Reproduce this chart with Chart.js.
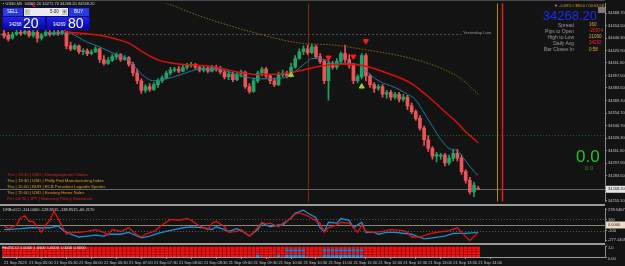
<!DOCTYPE html>
<html lang="en">
<head>
<meta charset="UTF-8">
<script src="https://cdn.jsdelivr.net/npm/chart.js"></script>
<title>US30,M5</title>
<style>
  html, body { margin: 0; padding: 0; background: #131313; }
  body { width: 625px; height: 266px; position: relative; overflow: hidden; font-family: "Liberation Sans", Arial, sans-serif; }
  canvas { position: absolute; left: 0; z-index: 1; }
  .t { position: absolute; white-space: nowrap; line-height: 1; z-index: 2; }
  .box { position: absolute; z-index: 2; }
  .sep { position: absolute; left: 0; width: 605px; background: #9a9a9a; z-index: 3; }
</style>
</head>
<body>
<canvas id="priceChart" width="625" height="205" style="top:0"></canvas>
<canvas id="cciChart" width="625" height="40" style="top:205px"></canvas>
<canvas id="heatChart" width="625" height="23" style="top:243px"></canvas>

<div class="sep" style="top:0;height:1px;background:#4a4a4a"></div>
<div class="sep" style="top:204px;height:2px"></div>
<div class="sep" style="top:243px;height:2px"></div>

<!-- header -->
<div class="t" style="left:3px;top:2px;font-size:4px;color:#d0d0d0">▪ US30,M5&nbsp; 34269.20 34271.70 34268.20 34268.20</div>

<!-- one click trading panel -->
<div class="box" style="left:2px;top:7px;width:88px;height:23px;background:#0a0a82"></div>
<div class="box" style="left:3px;top:8px;width:20px;height:8px;background:#2a3ad8"></div>
<div class="t" style="left:7px;top:10px;font-size:4.5px;color:#fff">SELL</div>
<div class="box" style="left:24px;top:8px;width:44px;height:8px;background:#ececec"></div>
<div class="box" style="left:25px;top:9px;width:5px;height:6px;background:#c8c8c8"></div>
<div class="box" style="left:62px;top:9px;width:5px;height:6px;background:#c8c8c8"></div>
<div class="t" style="left:26px;top:10px;font-size:4.5px;color:#222">-</div>
<div class="t" style="left:50px;top:10px;font-size:4.5px;color:#222">5.00</div>
<div class="t" style="left:63px;top:10px;font-size:4.5px;color:#222">+</div>
<div class="box" style="left:69px;top:8px;width:20px;height:8px;background:#2a3ad8"></div>
<div class="t" style="left:74px;top:10px;font-size:4.5px;color:#fff">BUY</div>
<div class="box" style="left:3px;top:17px;width:42px;height:12px;background:linear-gradient(#2424e6,#0606a8)"></div>
<div class="box" style="left:47px;top:17px;width:42px;height:12px;background:linear-gradient(#2424e6,#0606a8)"></div>
<div class="t" style="left:9px;top:23px;font-size:4.5px;color:#fff">34268</div>
<div class="t" style="left:23px;top:16px;font-size:14px;color:#fff">20</div>
<div class="t" style="left:53px;top:23px;font-size:4.5px;color:#fff">34269</div>
<div class="t" style="left:68px;top:16px;font-size:14px;color:#fff">80</div>

<!-- info panel -->
<div class="t" style="left:554px;top:4px;font-size:4px;color:#d8a020">▼ -0.09% / 380.0 / 00:03:58</div>
<div class="box" style="left:598px;top:7px;width:7px;height:6px;background:#7a7a7a"></div>
<div class="t" style="right:28px;top:9px;font-size:13px;color:#1a2cff">34268.20</div>
<div class="t" style="right:51px;top:22.5px;font-size:5px;color:#9a9a9a;text-align:right">Spread</div>
<div class="t" style="right:51px;top:28.5px;font-size:5px;color:#9a9a9a;text-align:right">Pips to Open</div>
<div class="t" style="right:51px;top:34.5px;font-size:5px;color:#9a9a9a;text-align:right">High to Low</div>
<div class="t" style="right:51px;top:40.5px;font-size:5px;color:#9a9a9a;text-align:right">Daily Avg</div>
<div class="t" style="right:51px;top:47px;font-size:5px;color:#9a9a9a;text-align:right">Bar Closes In</div>
<div class="t" style="left:589px;top:23px;font-size:4.5px;color:#e0b020">160</div>
<div class="t" style="left:589px;top:29px;font-size:4.5px;color:#ff2020">-20974</div>
<div class="t" style="left:589px;top:35px;font-size:4.5px;color:#e0b020">21060</div>
<div class="t" style="left:589px;top:41px;font-size:4.5px;color:#ff2020">34262</div>
<div class="t" style="left:589px;top:47.5px;font-size:4.5px;color:#e0b020">0:58</div>

<div class="t" style="left:463px;top:31px;font-size:4.3px;color:#9a9a9a">Yesterday Low</div>

<div class="t" style="left:576px;top:148px;font-size:17px;color:#29c02c">0.0</div>
<div class="t" style="left:585px;top:165px;font-size:6px;color:#1f9a1f">0.0</div>

<!-- news list -->
<div class="t" style="left:7px;top:173px;font-size:4.3px;color:#e02020">Thu | 13:30 | USD | Unemployment Claims</div>
<div class="t" style="left:7px;top:179px;font-size:4.3px;color:#e0a020">Thu | 13:30 | USD | Philly Fed Manufacturing Index</div>
<div class="t" style="left:7px;top:185px;font-size:4.3px;color:#e0a020">Thu | 15:00 | EUR | ECB President Lagarde Speaks</div>
<div class="t" style="left:7px;top:191px;font-size:4.3px;color:#e0a020">Thu | 15:00 | USD | Existing Home Sales</div>
<div class="t" style="left:7px;top:197px;font-size:4.3px;color:#e02020">Fri | 04:30 | JPY | Monetary Policy Statement</div>

<div class="t" style="left:3px;top:208px;font-size:4px;color:#cfcfcf">DRBoCCI -114.0400 -128.8515 -138.8515 -66.2170</div>
<div class="t" style="left:2px;top:246px;font-size:4px;color:#f2f2f2">Fib25CCI 1.0000 1.0000 1.0000 1.0000 0.0000</div>

<script>
// ---- data (M5 bars, index 0..114) ----
const candleOpen = [34445.6,34443.4,34440.1,34444.5,34446.7,34445.6,34447.8,34443.4,34446.7,34440.1,
  34443.4,34446.7,34444.5,34446.7,34445.6,34446.7,34431.3,34428.0,34431.3,34424.7,
  34425.8,34422.5,34424.7,34428.0,34415.9,34411.5,34414.8,34419.2,34421.4,34415.9,
  34418.1,34410.4,34400.5,34391.7,34380.7,34385.1,34381.8,34387.3,34391.7,34395.0,
  34400.5,34403.8,34404.9,34402.7,34407.1,34409.3,34410.4,34407.1,34403.8,34406.0,
  34402.7,34407.1,34404.9,34401.6,34396.1,34399.4,34392.8,34399.4,34401.6,34385.1,
  34379.6,34391.7,34400.5,34404.9,34397.2,34391.7,34387.3,34398.3,34400.5,34397.2,
  34407.1,34417.0,34424.7,34428.0,34423.6,34430.2,34419.2,34413.7,34391.7,34411.5,
  34407.1,34413.7,34422.5,34415.9,34409.3,34391.7,34396.1,34420.3,34397.2,34387.3,
  34382.9,34385.1,34376.3,34378.5,34373.0,34376.3,34370.8,34373.0,34363.1,34356.5,
  34348.8,34337.8,34324.6,34314.7,34305.9,34305.9,34307.0,34298.2,34303.7,34309.2,
  34303.7,34288.3,34278.4,34265.2,34269.2];
const candleHigh = [34450.0,34446.7,34446.7,34450.0,34451.1,34452.2,34450.0,34448.9,34448.9,34445.6,
  34448.9,34448.9,34448.9,34450.0,34450.0,34447.8,34435.7,34433.5,34432.4,34428.0,
  34428.0,34426.9,34430.2,34429.1,34420.3,34418.1,34421.4,34423.6,34422.5,34420.3,
  34419.2,34412.6,34404.9,34393.9,34387.3,34388.4,34389.5,34393.9,34397.2,34402.7,
  34407.1,34407.1,34408.2,34409.3,34411.5,34412.6,34411.5,34409.3,34408.2,34408.2,
  34409.3,34409.3,34408.2,34403.8,34402.7,34401.6,34401.6,34403.8,34402.7,34388.4,
  34395.0,34402.7,34407.1,34407.1,34399.4,34395.0,34401.6,34403.8,34402.7,34411.5,
  34420.3,34428.0,34431.3,34432.4,34433.5,34432.4,34422.5,34415.9,34419.2,34413.7,
  34417.0,34424.7,34432.4,34421.4,34411.5,34398.3,34422.5,34422.5,34399.4,34389.5,
  34387.3,34387.3,34380.7,34380.7,34378.5,34378.5,34376.3,34375.2,34366.4,34358.7,
  34352.1,34340.0,34329.0,34316.9,34310.3,34309.2,34309.2,34307.0,34312.5,34313.6,
  34307.0,34290.5,34281.7,34276.2,34271.7];
const candleLow = [34440.1,34436.8,34439.0,34443.4,34443.4,34444.5,34441.2,34441.2,34435.7,34437.9,
  34442.3,34442.3,34443.4,34443.4,34444.5,34428.0,34425.8,34426.9,34422.5,34421.4,
  34420.3,34421.4,34423.6,34412.6,34409.3,34410.4,34413.7,34415.9,34413.7,34414.8,
  34408.2,34397.2,34388.4,34377.4,34378.5,34379.6,34380.7,34384.0,34389.5,34393.9,
  34398.3,34401.6,34400.5,34401.6,34404.9,34407.1,34404.9,34401.6,34401.6,34400.5,
  34401.6,34402.7,34399.4,34393.9,34392.8,34390.6,34391.7,34396.1,34382.9,34377.4,
  34378.5,34389.5,34397.2,34395.0,34388.4,34385.1,34386.2,34396.1,34395.0,34396.1,
  34406.0,34415.9,34421.4,34421.4,34422.5,34417.0,34411.5,34388.4,34369.7,34404.9,
  34404.9,34411.5,34412.6,34406.0,34388.4,34389.5,34393.9,34391.7,34384.0,34378.5,
  34380.7,34373.0,34371.9,34369.7,34370.8,34367.5,34368.6,34358.7,34354.3,34346.6,
  34335.6,34318.0,34311.4,34302.6,34299.3,34302.6,34294.9,34296.0,34300.4,34300.4,
  34285.0,34275.1,34263.0,34259.7,34268.2];
const candleClose = [34442.3,34439.0,34444.5,34446.7,34445.6,34447.8,34443.4,34446.7,34440.1,34443.4,
  34446.7,34444.5,34446.7,34445.6,34447.8,34431.3,34428.0,34431.3,34424.7,34425.8,
  34422.5,34424.7,34428.0,34415.9,34411.5,34414.8,34419.2,34421.4,34415.9,34418.1,
  34410.4,34400.5,34391.7,34380.7,34385.1,34381.8,34387.3,34391.7,34395.0,34400.5,
  34403.8,34404.9,34402.7,34407.1,34409.3,34410.4,34407.1,34403.8,34406.0,34402.7,
  34407.1,34404.9,34401.6,34396.1,34399.4,34392.8,34399.4,34401.6,34385.1,34379.6,
  34391.7,34400.5,34404.9,34397.2,34391.7,34387.3,34398.3,34400.5,34397.2,34407.1,
  34417.0,34424.7,34428.0,34423.6,34430.2,34419.2,34413.7,34391.7,34411.5,34407.1,
  34413.7,34422.5,34415.9,34409.3,34391.7,34396.1,34420.3,34397.2,34387.3,34382.9,
  34385.1,34376.3,34378.5,34373.0,34376.3,34370.8,34373.0,34363.1,34356.5,34348.8,
  34337.8,34324.6,34314.7,34305.9,34308.1,34307.0,34298.2,34303.7,34309.2,34303.7,
  34288.3,34278.4,34265.2,34272.9,34268.2];

// moving averages, sparse [bar index, price]
const slowMaPoints = [[5,34483.0],[6,34480.5],[9,34470.0],[12,34458.0],[15,34448.0],[19,34445.5],
  [23,34443.4],[27,34439.0],[30,34434.5],[33,34425.5],[37,34415.5],[41,34411.3],[45,34409.5],
  [50,34408.0],[55,34402.7],[59,34399.4],[62,34398.8],[66,34399.4],[70,34401.8],[74,34406.3],
  [78,34409.5],[82,34410.4],[87,34408.3],[92,34400.5],[98,34388.5],[103,34369.5],[106,34356.5],
  [109,34344.0],[111,34333.6],[114,34321.5]];
const fastMaPoints = [[10,34446.0],[13,34447.0],[15,34446.7],[20,34435.7],[23,34430.2],[27,34421.4],
  [30,34415.9],[31,34410.4],[33,34399.4],[36,34391.7],[39,34393.9],[43,34399.4],[47,34404.9],
  [51,34404.9],[57,34397.2],[61,34393.9],[66,34393.9],[69,34399.4],[73,34413.7],[74,34417.0],
  [77,34415.9],[79,34411.5],[81,34411.5],[85,34410.4],[87,34402.7],[90,34391.7],[94,34384.0],
  [97,34376.3],[99,34369.7],[101,34355.0],[103,34339.9],[105,34325.0],[107,34314.7],[109,34312.0],
  [111,34300.4],[113,34288.5],[114,34283.9]];
const dailyAvgPoints = [[35,34484.0],[39,34479.7],[47,34465.4],[59,34447.9],[71,34434.6],[79,34432.4],
  [87,34426.9],[98,34417.0],[105,34406.0],[110,34393.5],[114,34376.3]];

const buyArrows = [[69,34398.3],[86,34385.1]];
const sellArrows = [[78,34418.1],[84,34419.2],[87,34436.8]];

const priceTicks = [34468.70,34454.50,34440.30,34425.90,34411.90,34397.50,34383.50,34369.10,
  34354.70,34340.70,34326.30,34311.90,34297.90,34283.50,34269.10,34255.10];
const currentPrice = 34268.20;
const yesterdayLow = 34444.5;
const yesterdayLowEnd = 110;
const greenLevel = 34330.1;
const sessionLines = [[73.1,'#862812',1],[118.5,'#b8860b',1],[119.7,'#ff1010',1.5]];

// CCI panel, sparse [bar index, value]
const cciRedPoints = [[0,-17],[1,-67],[3,0],[4,133],[5,167],[6,67],[7,67],[9,-133],[10,0],[11,83],
  [12,250],[13,117],[14,-33],[15,-167],[16,-133],[18,-133],[20,-117],[22,-83],[24,-133],[25,-183],
  [26,-83],[28,-117],[30,-50],[31,-117],[32,-183],[33,-217],[34,-167],[36,-117],[38,0],[40,100],
  [42,83],[44,117],[45,83],[47,-17],[49,-83],[50,33],[51,67],[53,-33],[54,-133],[56,-117],[57,-83],
  [59,-200],[60,-133],[62,50],[63,17],[64,33],[66,-33],[67,33],[69,117],[70,200],[71,217],[73,167],
  [74,117],[76,33],[77,-133],[78,-50],[80,0],[81,50],[83,33],[85,-133],[86,0],[87,-117],[89,-133],
  [91,-117],[93,-83],[96,-100],[97,-133],[98,-217],[100,-217],[102,-167],[104,-133],[107,-100],
  [109,-50],[110,-133],[112,-283],[114,-133]];
const cciBluePoints = [[0,-83],[1,-83],[4,-67],[6,-50],[9,-50],[11,-50],[13,-17],[14,-83],[16,-167],
  [18,-217],[20,-200],[22,-183],[24,-200],[25,-167],[28,-167],[30,-133],[31,-167],[33,-233],[35,-200],
  [37,-150],[39,-117],[41,-83],[43,-50],[45,-33],[48,-50],[50,-83],[51,-33],[53,-83],[54,-117],
  [56,-67],[57,-100],[59,-200],[61,-83],[62,33],[64,-33],[66,0],[67,0],[69,133],[70,217],[72,267],
  [73,217],[75,133],[76,-50],[77,-117],[78,50],[80,33],[81,117],[83,83],[84,-50],[86,50],[87,-133],
  [89,-133],[90,-167],[92,-133],[94,-133],[98,-167],[101,-250],[103,-233],[106,-200],[108,-150],
  [111,-150],[114,-133]];
const cciTicks = [278.5467, 100, 0, -100, -277.1409];
const cciTickLabels = ['278.5467', '100', '0.0000', '-100', '-277.1409'];

// signal grid: 4 rows, bars whose cell is blue (row 0 = top)
const gridRows = 4;
const gridBlue = [[], [68,69,70,71,72,77,78,79,80,81,82,83,84,85,86], [],
  [61,66,68,69,70,71,72,77,78,79,80,81,82,83,84,85,86]];

const timeLabels = ['21 Sep 2023','21 Sep 05:00','21 Sep 05:30','21 Sep 06:00','21 Sep 06:30',
  '21 Sep 07:00','21 Sep 07:30','21 Sep 08:00','21 Sep 08:30','21 Sep 09:00','21 Sep 09:30',
  '21 Sep 10:00','21 Sep 10:30','21 Sep 11:00','21 Sep 11:30','21 Sep 12:00','21 Sep 12:30',
  '21 Sep 13:00','21 Sep 13:30','21 Sep 14:00'];
const barsPerLabel = 6;
const slots = 145;

// ---- helpers ----
const bull = '#21a366', bear = '#ea5656';
const axisGrey = '#8a8a8a', tickText = '#c8c8c8';
const pts = arr => arr.map(([x, y]) => ({x, y}));
const tickFont = {size: 4, family: 'Liberation Sans'};

const xScale = hidden => ({
  type: 'linear', min: -0.5, max: slots - 0.5, offset: false, display: !hidden,
  grid: {display: false}
});
const rightAxis = extra => Object.assign({
  position: 'right',
  afterFit: s => { s.width = 20; },
  border: {color: axisGrey},
  grid: {display: true, drawOnChartArea: false, drawTicks: true, tickLength: 2, color: axisGrey},
  ticks: {autoSkip: false, font: tickFont, color: tickText, padding: 1}
}, extra);

const levels = {
  id: 'levels',
  beforeDatasetsDraw(chart, args, opts) {
    const {ctx, chartArea: a, scales: {x, y}} = chart;
    ctx.save();
    (opts.fill || []).forEach(f => {
      ctx.fillStyle = f.color;
      ctx.fillRect(x.getPixelForValue(f.from), a.top, x.getPixelForValue(f.to) - x.getPixelForValue(f.from), a.bottom - a.top);
    });
    (opts.h || []).forEach(l => {
      const py = Math.round(y.getPixelForValue(l.value)) + 0.5;
      ctx.strokeStyle = l.color; ctx.lineWidth = 1; ctx.setLineDash(l.dash || []);
      ctx.beginPath(); ctx.moveTo(0, py);
      ctx.lineTo(l.to != null ? x.getPixelForValue(l.to) : a.right, py); ctx.stroke();
    });
    (opts.v || []).forEach(([v, color, w]) => {
      const px = Math.round(x.getPixelForValue(v)) + 0.5;
      ctx.strokeStyle = color; ctx.lineWidth = w; ctx.setLineDash([]);
      ctx.beginPath(); ctx.moveTo(px, a.top); ctx.lineTo(px, a.bottom); ctx.stroke();
    });
    ctx.restore();
  },
  afterDraw(chart, args, opts) {
    if (!opts.tag) return;
    const {ctx, chartArea: a, scales: {y}} = chart;
    const py = y.getPixelForValue(opts.tag.value);
    ctx.save();
    ctx.fillStyle = opts.tag.bg;
    ctx.fillRect(a.right + 1, py - 3.5, 19, 7);
    ctx.fillStyle = '#1a1a1a';
    ctx.font = '4px "Liberation Sans"';
    ctx.textBaseline = 'middle';
    ctx.fillText(opts.tag.text, a.right + 3, py);
    ctx.restore();
  }
};

const common = {
  responsive: false, animation: false, devicePixelRatio: 1,
  layout: {autoPadding: false, padding: {left: 2, right: 0, top: 0, bottom: 0}},
  plugins: {legend: {display: false}, tooltip: {enabled: false}}
};

// ---- main price chart ----
const candleColors = candleClose.map((c, i) => c >= candleOpen[i] ? bull : bear);
new Chart(document.getElementById('priceChart'), {
  type: 'bar',
  data: {
    datasets: [
      {type: 'line', data: pts(buyArrows), showLine: false, pointStyle: 'triangle', pointRadius: 3,
        pointBackgroundColor: '#9acd32', pointBorderColor: '#9acd32'},
      {type: 'line', data: pts(sellArrows), showLine: false, pointStyle: 'triangle', pointRotation: 180,
        pointRadius: 3, pointBackgroundColor: '#ff1a1a', pointBorderColor: '#ff1a1a'},
      {type: 'line', data: pts(slowMaPoints), borderColor: '#e00d0d', borderWidth: 1.5, pointRadius: 0,
        cubicInterpolationMode: 'monotone'},
      {type: 'line', data: pts(fastMaPoints), borderColor: '#1b7ca4', borderWidth: 1, pointRadius: 0,
        cubicInterpolationMode: 'monotone'},
      {type: 'line', data: pts(dailyAvgPoints), borderColor: '#8c6a14', borderWidth: 1, borderDash: [1.5, 1.5],
        pointRadius: 0, cubicInterpolationMode: 'monotone'},
      {data: candleOpen.map((o, i) => ({x: i, y: [o, candleClose[i]]})), backgroundColor: candleColors,
        barThickness: 3, grouped: false, borderWidth: 0},
      {data: candleLow.map((l, i) => ({x: i, y: [l, candleHigh[i]]})), backgroundColor: candleColors,
        barThickness: 1, grouped: false, borderWidth: 0}
    ]
  },
  options: Object.assign({}, common, {
    scales: {
      x: xScale(true),
      y: rightAxis({
        min: 34254.2, max: 34479.7,
        afterBuildTicks: s => { s.ticks = priceTicks.map(v => ({value: v})); },
        ticks: {autoSkip: false, font: tickFont, color: tickText, padding: 1, callback: v => v.toFixed(2)}
      })
    },
    plugins: Object.assign({}, common.plugins, {
      levels: {
        h: [
          {value: yesterdayLow, color: '#505050', dash: [2, 2], to: yesterdayLowEnd},
          {value: greenLevel, color: '#0b6e0b', dash: [1, 2]},
          {value: currentPrice, color: '#62646e'}
        ],
        v: sessionLines,
        tag: {value: currentPrice, text: currentPrice.toFixed(2), bg: '#e4e4e4'}
      }
    })
  }),
  plugins: [levels]
});

// ---- CCI panel ----
new Chart(document.getElementById('cciChart'), {
  type: 'line',
  data: {
    datasets: [
      {data: pts(cciRedPoints), borderColor: '#e31212', borderWidth: 1.3, pointRadius: 0, tension: 0},
      {data: pts(cciBluePoints), borderColor: '#1d8fd4', borderWidth: 1.3, pointRadius: 0, tension: 0}
    ]
  },
  options: Object.assign({}, common, {
    layout: {autoPadding: false, padding: {left: 2, right: 0, top: 2, bottom: 2}},
    scales: {
      x: xScale(true),
      y: rightAxis({
        min: -300, max: 300,
        afterBuildTicks: s => { s.ticks = cciTicks.map(v => ({value: v})); },
        ticks: {autoSkip: false, font: tickFont, color: tickText, padding: 1,
          callback: (v, i) => cciTickLabels[i]}
      })
    },
    plugins: Object.assign({}, common.plugins, {
      levels: {
        h: [
          {value: 100, color: '#555555', dash: [1, 2]},
          {value: -100, color: '#555555', dash: [1, 2]},
          {value: 0, color: '#8c8478'}
        ],
        tag: {value: 0, text: '0.0000', bg: '#ecdcc6'}
      }
    })
  }),
  plugins: [levels]
});

// ---- signal grid + time axis ----
const gridSets = gridBlue.map((blue, r) => {
  const k = gridRows - 1 - r;
  return {
    data: candleClose.map((_, i) => ({x: i, y: [k / gridRows + 0.04, (k + 1) / gridRows - 0.04]})),
    backgroundColor: candleClose.map((_, i) => blue.includes(i) ? '#1e86e0' : '#f01414'),
    barThickness: 3, grouped: false, borderWidth: 0
  };
});
new Chart(document.getElementById('heatChart'), {
  type: 'bar',
  data: {datasets: gridSets},
  options: Object.assign({}, common, {
    layout: {autoPadding: false, padding: {left: 2, right: 0, top: 2, bottom: 0}},
    scales: {
      x: {
        type: 'linear', min: -0.5, max: slots - 0.5, offset: false,
        afterFit: s => { s.height = 9; },
        afterBuildTicks: s => { s.ticks = timeLabels.map((_, k) => ({value: k * barsPerLabel})); },
        border: {color: '#9a9a9a'},
        grid: {display: true, drawOnChartArea: false, drawTicks: true, tickLength: 2, color: '#9a9a9a'},
        ticks: {autoSkip: false, maxRotation: 0, align: 'start', font: tickFont, color: tickText, padding: 1,
          callback: v => timeLabels[v / barsPerLabel]}
      },
      y: rightAxis({
        min: 0, max: 1,
        afterBuildTicks: s => { s.ticks = [{value: 1}, {value: 0}]; },
        ticks: {autoSkip: false, font: tickFont, color: tickText, padding: 1, labelOffset: 1.5,
          callback: v => v === 1 ? '1.0' : '0.00'}
      })
    },
    plugins: Object.assign({}, common.plugins, {
      levels: {fill: [{from: -0.5, to: candleClose.length - 0.5, color: '#5a0000'}]}
    })
  }),
  plugins: [levels]
});
</script>
</body>
</html>
